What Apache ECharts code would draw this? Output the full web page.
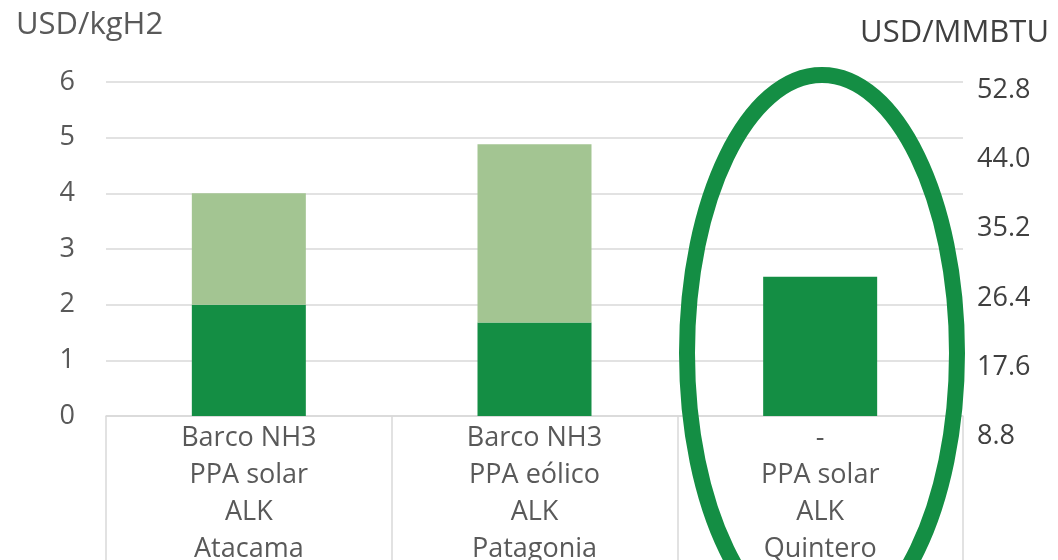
<!DOCTYPE html>
<html>
<head>
<meta charset="utf-8">
<script src="https://cdn.jsdelivr.net/npm/echarts@6/dist/echarts.min.js"></script>
<style>
  html, body { margin: 0; padding: 0; background: #fff; }
  #chart { width: 1058px; height: 560px; }
</style>
</head>
<body>
<div id="chart"></div>
<script>
// categorías (transporte / energía / electrolizador / lugar)
const categories = [
  "Barco NH3\nPPA solar\nALK\nAtacama",
  "Barco NH3\nPPA eólico\nALK\nPatagonia",
  "-\nPPA solar\nALK\nQuintero",
];
// USD/kgH2
const darkValues = [2.0, 1.68, 2.5];
const lightValues = [2.0, 3.2, 0];
// eje secundario USD/MMBTU
const rightMin = 8.8;
const rightMax = 52.8;
const rightStep = 8.8;

const font = "'Open Sans', 'Liberation Sans', sans-serif";
const gray = "#595959";
const gridGray = "#d9d9d9";

const chart = echarts.init(document.getElementById("chart"));
const option = {
  animation: false,
  title: [
    {
      text: "USD/kgH2",
      left: 11,
      top: 5,
      textStyle: { fontFamily: font, fontSize: 31, fontWeight: "normal", color: gray },
    },
    {
      text: "USD/MMBTU",
      right: 4,
      top: 13,
      textStyle: { fontFamily: font, fontSize: 31, fontWeight: "normal", color: "#404040" },
    },
  ],
  grid: [
    { left: 106, right: 95, top: 82, bottom: 144, outerBoundsMode: "none" },
    // solo para las etiquetas del eje derecho
    { left: 106, right: 95, top: 90, bottom: 123.5, outerBoundsMode: "none" },
  ],
  xAxis: [
    {
      type: "category",
      data: categories,
      gridIndex: 0,
      axisLine: { lineStyle: { color: gridGray, width: 1.5 } },
      axisTick: {
        show: true,
        length: 144,
        lineStyle: { color: gridGray, width: 1.5 },
      },
      axisLabel: {
        fontFamily: font,
        fontSize: 27,
        color: gray,
        lineHeight: 37,
        margin: 4,
      },
    },
    { type: "category", gridIndex: 1, show: false, data: categories },
  ],
  yAxis: [
    {
      type: "value",
      gridIndex: 0,
      min: 0,
      max: 6,
      interval: 1,
      axisLine: { show: false },
      axisTick: { show: false },
      splitLine: { lineStyle: { color: gridGray, width: 1.5 } },
      axisLabel: { fontFamily: font, fontSize: 27, color: gray, margin: 31 },
    },
    {
      type: "value",
      gridIndex: 1,
      position: "right",
      min: rightMin,
      max: rightMax,
      interval: rightStep,
      axisLine: { show: false },
      axisTick: { show: false },
      splitLine: { show: false },
      axisLabel: {
        fontFamily: font,
        fontSize: 27,
        color: "#404040",
        margin: 14,
        formatter: (v) => v.toFixed(1),
      },
    },
  ],
  series: [
    {
      type: "bar",
      stack: "total",
      data: darkValues,
      barWidth: 114,
      itemStyle: { color: "#148e44" },
    },
    {
      type: "bar",
      stack: "total",
      data: lightValues,
      barWidth: 114,
      itemStyle: { color: "#a3c592" },
    },
  ],
  graphic: [
    {
      type: "ellipse",
      shape: { cx: 822, cy: 353, rx: 135, ry: 278 },
      style: { fill: "none", stroke: "#148e44", lineWidth: 16 },
      z: 100,
    },
  ],
};
chart.setOption(option);
</script>
</body>
</html>
